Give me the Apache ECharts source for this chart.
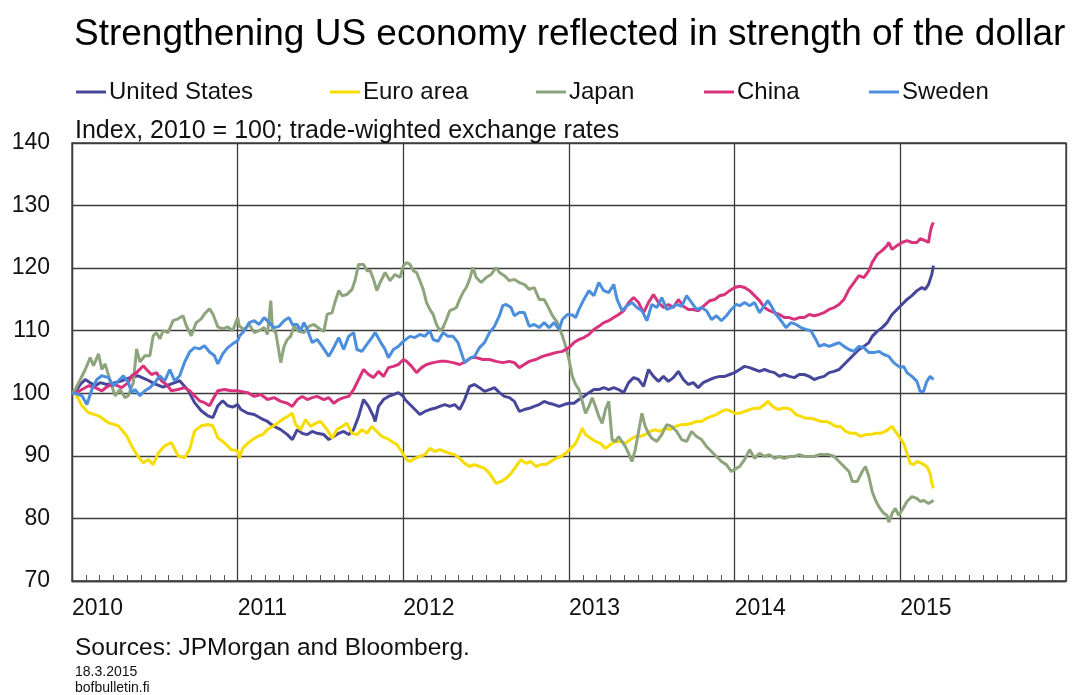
<!DOCTYPE html>
<html>
<head>
<meta charset="UTF-8"/>
<script src="https://cdn.jsdelivr.net/npm/echarts@6/dist/echarts.min.js"></script>
<title>Strengthening US economy</title>
<style>
  html, body { margin: 0; padding: 0; background: #fff; }
  #main { width: 1072px; height: 695px; }
</style>
</head>
<body>
<div id="main"></div>
<script type="text/javascript">
    // trade-weighted exchange rate indices, 2010 = 100 (x = decimal year)
    var usData = [
        [2010.00,100],[2010.03,100.6],[2010.05,101.4],[2010.08,102.2],[2010.11,101.7],[2010.14,101.2],[2010.17,101.7],
        [2010.21,101.4],[2010.25,101.6],[2010.30,102],[2010.35,102.5],[2010.40,102.8],[2010.45,102.2],[2010.50,101.5],
        [2010.55,101],[2010.60,101.5],[2010.65,102],[2010.70,100.5],[2010.74,98.5],[2010.78,97.2],[2010.82,96.4],
        [2010.85,96.1],[2010.88,98],[2010.91,98.8],[2010.94,98],[2010.97,97.8],[2011.00,98.2],
        [2011.02,97.4],[2011.06,96.8],[2011.10,96.6],[2011.14,96],[2011.18,95.5],[2011.22,94.7],[2011.26,94.2],
        [2011.30,93.4],[2011.33,92.6],[2011.36,94.2],[2011.39,93.6],[2011.42,93.4],[2011.45,93.9],[2011.48,93.6],
        [2011.52,93.4],[2011.55,92.6],[2011.58,93.1],[2011.61,93.6],[2011.64,93.9],[2011.67,93.4],[2011.70,94.2],
        [2011.73,96.3],[2011.76,99],[2011.79,97.9],[2011.82,96.3],[2011.83,95.5],[2011.85,97.9],[2011.88,99],
        [2011.91,99.5],[2011.94,99.8],[2011.97,100.1],[2012.00,99.5],
        [2012.01,99],[2012.04,98.2],[2012.07,97.4],[2012.10,96.6],[2012.13,97.1],[2012.16,97.4],[2012.19,97.6],
        [2012.22,97.9],[2012.25,98.2],[2012.28,97.9],[2012.31,98.2],[2012.34,97.4],[2012.37,99],[2012.40,101.1],
        [2012.43,101.4],[2012.46,100.9],[2012.49,100.3],[2012.52,100.6],[2012.55,100.9],[2012.58,100.1],[2012.61,99.5],
        [2012.64,99.3],[2012.67,98.7],[2012.70,97.1],[2012.73,97.4],[2012.76,97.6],[2012.79,97.9],[2012.82,98.2],
        [2012.85,98.7],[2012.88,98.4],[2012.91,98.2],[2012.94,97.9],[2012.97,98.2],[2013.00,98.4],
        [2013.03,98.4],[2013.06,99],[2013.09,99.5],[2013.12,100.1],[2013.15,100.6],[2013.18,100.6],[2013.21,100.9],
        [2013.24,100.6],[2013.27,100.9],[2013.30,100.6],[2013.33,100.1],[2013.36,101.7],[2013.39,102.5],[2013.42,102.2],
        [2013.45,101.1],[2013.48,103.8],[2013.51,102.7],[2013.54,101.9],[2013.57,102.7],[2013.60,101.9],[2013.63,102.5],
        [2013.66,103.5],[2013.69,102.2],[2013.72,101.4],[2013.75,101.7],[2013.78,100.9],[2013.81,101.7],[2013.85,102.2],
        [2013.88,102.5],[2013.91,102.7],[2013.94,102.7],[2013.97,103],[2014.00,103.3],
        [2014.03,103.8],[2014.06,104.3],[2014.09,104.1],[2014.12,103.8],[2014.15,103.5],[2014.18,103.8],[2014.21,103.5],
        [2014.24,103.3],[2014.27,102.7],[2014.30,103],[2014.33,102.7],[2014.36,102.5],[2014.39,103],[2014.42,103],
        [2014.45,102.7],[2014.48,102.2],[2014.51,102.5],[2014.54,102.7],[2014.57,103.3],[2014.60,103.5],[2014.63,103.8],
        [2014.66,104.6],[2014.69,105.4],[2014.72,106.2],[2014.75,107],[2014.78,107.5],[2014.81,108.1],[2014.83,109.1],
        [2014.86,109.9],[2014.89,110.5],[2014.92,111.3],[2014.95,112.6],[2014.98,113.4],[2015.01,114.2],[2015.04,115],
        [2015.07,115.6],[2015.10,116.4],[2015.13,116.9],[2015.15,116.6],[2015.17,117.4],[2015.19,119],[2015.20,120.4]
    ];

    var euroData = [
        [2010.00,100],[2010.02,100],[2010.06,98],[2010.10,96.9],[2010.16,96.4],[2010.22,95.3],[2010.28,94.8],
        [2010.33,93.2],[2010.36,91.6],[2010.39,90.2],[2010.43,88.9],[2010.46,89.4],[2010.49,88.6],[2010.52,90.4],
        [2010.56,91.6],[2010.60,92.1],[2010.64,90],[2010.68,89.7],[2010.71,91],[2010.74,94],[2010.78,94.8],
        [2010.82,95],[2010.85,94.8],[2010.88,92.9],[2010.92,92.1],[2010.96,91],[2011.00,90.8],
        [2011.01,89.6],[2011.03,91.2],[2011.06,92],[2011.09,92.6],[2011.12,93.1],[2011.15,93.4],[2011.18,94.2],
        [2011.21,94.7],[2011.24,95.2],[2011.27,95.8],[2011.30,96.3],[2011.33,96.8],[2011.35,95],[2011.38,94.2],
        [2011.41,95.8],[2011.44,94.7],[2011.47,95.2],[2011.50,95.5],[2011.54,94.2],[2011.57,92.8],[2011.60,94.2],
        [2011.63,94.7],[2011.66,95.2],[2011.69,93.6],[2011.72,93.4],[2011.75,94.2],[2011.78,93.6],[2011.81,94.7],
        [2011.84,93.9],[2011.87,93.1],[2011.90,92.8],[2011.93,92.3],[2011.96,91.8],[2011.99,90.7],[2012.02,89.4],
        [2012.04,89.1],[2012.07,89.6],[2012.10,89.9],[2012.13,90.2],[2012.16,91.2],[2012.19,90.7],[2012.22,91],
        [2012.25,90.7],[2012.28,90.4],[2012.31,90.2],[2012.34,89.6],[2012.37,88.8],[2012.40,88.3],[2012.43,88.6],
        [2012.46,88.3],[2012.49,88],[2012.52,87.2],[2012.54,86.4],[2012.56,85.6],[2012.59,85.9],[2012.62,86.4],
        [2012.65,87.2],[2012.68,88.3],[2012.71,89.4],[2012.74,88.8],[2012.77,89.1],[2012.80,88.3],[2012.83,88.6],
        [2012.86,88.6],[2012.89,89.1],[2012.92,89.6],[2012.95,89.9],[2012.98,90.4],[2013.01,91.2],[2013.04,92],
        [2013.06,93.1],[2013.08,94.4],[2013.10,93.4],[2013.13,92.8],[2013.16,92.3],[2013.19,92],[2013.22,91.2],
        [2013.25,91.8],[2013.28,92.3],[2013.31,92.3],[2013.34,92],[2013.37,92.6],[2013.40,93.1],[2013.43,93.1],
        [2013.46,93.4],[2013.49,93.9],[2013.52,94.2],[2013.55,93.9],[2013.58,94.4],[2013.61,94.2],[2013.64,94.7],
        [2013.68,95],[2013.71,95],[2013.74,95.2],[2013.77,95.5],[2013.80,95.5],[2013.83,96],[2013.86,96.3],
        [2013.89,96.6],[2013.92,97.1],[2013.95,97.4],[2013.98,97.1],[2014.00,96.8],
        [2014.03,96.8],[2014.06,97.1],[2014.09,97.4],[2014.12,97.6],[2014.15,97.6],[2014.18,98.2],[2014.20,98.7],
        [2014.23,97.9],[2014.26,97.4],[2014.29,97.6],[2014.32,97.6],[2014.34,97.4],[2014.37,96.6],[2014.40,96.3],
        [2014.43,96],[2014.46,96],[2014.49,95.8],[2014.52,95.5],[2014.55,95.5],[2014.58,95.2],[2014.61,94.7],
        [2014.64,94.7],[2014.67,93.9],[2014.70,93.6],[2014.73,93.6],[2014.76,93.1],[2014.79,93.4],[2014.82,93.4],
        [2014.85,93.6],[2014.88,93.6],[2014.91,93.9],[2014.95,94.7],[2014.97,93.9],[2015.00,92.8],[2015.02,92],
        [2015.04,90.4],[2015.06,88.8],[2015.08,88.6],[2015.10,89.1],[2015.13,88.8],[2015.16,88.3],[2015.18,87.2],
        [2015.19,85.6],[2015.20,84.8]
    ];

    var japanData = [
        [2010.00,100],[2010.02,100.6],[2010.05,102.2],[2010.08,103.8],[2010.11,105.7],[2010.13,104.4],[2010.16,106.3],
        [2010.18,103.8],[2010.20,104.7],[2010.23,102],[2010.26,99.6],[2010.29,100.6],[2010.32,99.3],[2010.34,99.6],
        [2010.37,101.7],[2010.39,107.1],[2010.41,105],[2010.44,106],[2010.47,106],[2010.49,109.2],[2010.51,109.7],
        [2010.53,108.7],[2010.55,110],[2010.58,109.7],[2010.61,111.6],[2010.64,111.9],[2010.67,112.4],[2010.69,110.8],
        [2010.72,109.2],[2010.75,111.3],[2010.78,111.9],[2010.80,112.7],[2010.83,113.5],[2010.85,112.7],[2010.88,110.6],
        [2010.91,110.3],[2010.94,110.6],[2010.97,110],[2011.00,112.1],
        [2011.01,110.7],[2011.04,110.2],[2011.07,111],[2011.10,109.7],[2011.13,110],[2011.16,110.5],[2011.18,109.4],
        [2011.20,114.8],[2011.21,110.2],[2011.23,109.7],[2011.25,106.5],[2011.26,104.9],[2011.28,107.5],[2011.30,108.6],
        [2011.32,109.1],[2011.34,110.7],[2011.37,109.9],[2011.40,109.7],[2011.43,110.7],[2011.46,111],[2011.50,110.2],
        [2011.52,109.9],[2011.54,112.6],[2011.57,112.9],[2011.59,114.8],[2011.61,116.4],[2011.63,115.6],[2011.66,115.8],
        [2011.69,116.6],[2011.71,118.2],[2011.73,120.6],[2011.76,120.6],[2011.78,119.6],[2011.80,119.6],[2011.82,118.2],
        [2011.84,116.4],[2011.86,117.7],[2011.89,119.3],[2011.92,118],[2011.95,119],[2011.98,118.5],
        [2012.00,120.4],[2012.02,120.9],[2012.04,120.6],[2012.06,119.6],[2012.08,119.3],[2012.10,118],[2012.12,116.6],
        [2012.14,114.5],[2012.16,113.4],[2012.18,112.6],[2012.20,111],[2012.22,110],[2012.24,110.5],[2012.26,111.8],
        [2012.28,113.2],[2012.30,113.4],[2012.32,113.7],[2012.34,115],[2012.36,116.1],[2012.38,116.9],[2012.40,118.2],
        [2012.42,120.1],[2012.44,118.5],[2012.47,117.7],[2012.50,118.5],[2012.53,119],[2012.56,120.1],[2012.58,119.3],
        [2012.61,118.8],[2012.64,118],[2012.67,118.2],[2012.70,117.7],[2012.73,117.4],[2012.76,116.6],[2012.79,116.9],
        [2012.82,115],[2012.85,115],[2012.87,114],[2012.90,112.4],[2012.93,111.3],[2012.96,109.2],[2012.98,107.5],
        [2013.00,105.4],[2013.02,102.7],[2013.04,101.4],[2013.06,100.6],
        [2013.08,98.7],[2013.10,96.8],[2013.12,97.9],[2013.14,99.3],[2013.16,97.9],[2013.18,96.3],[2013.20,95.2],
        [2013.22,97.4],[2013.24,98.7],[2013.26,92.6],[2013.28,92.3],[2013.30,93.1],[2013.32,92.3],[2013.34,91.5],
        [2013.36,90.4],[2013.38,89.1],[2013.40,91],[2013.42,93.9],[2013.44,96.8],[2013.46,94.7],[2013.48,93.6],
        [2013.50,92.8],[2013.53,92.3],[2013.56,93.4],[2013.59,95],[2013.62,94.7],[2013.65,93.9],[2013.68,92.6],
        [2013.71,92.3],[2013.74,93.9],[2013.77,93.1],[2013.80,92.6],[2013.83,91.5],[2013.86,90.7],[2013.89,89.9],
        [2013.92,89.1],[2013.95,88.6],[2013.98,87.5],[2014.01,88],
        [2014.03,88.3],[2014.06,89.4],[2014.09,91],[2014.12,89.6],[2014.15,90.4],[2014.18,89.9],[2014.21,90.2],
        [2014.24,89.6],[2014.27,89.9],[2014.30,89.6],[2014.33,89.9],[2014.36,89.9],[2014.39,90.2],[2014.42,89.9],
        [2014.45,89.9],[2014.48,89.9],[2014.51,90.2],[2014.54,90.2],[2014.57,90.2],[2014.60,89.9],[2014.63,89.1],
        [2014.66,88.3],[2014.69,87.5],[2014.71,85.9],[2014.74,85.9],[2014.77,87.5],[2014.79,88.3],[2014.81,86.7],
        [2014.83,84.3],[2014.85,82.9],[2014.87,81.9],[2014.90,80.8],[2014.92,80.5],[2014.93,79.4],[2014.95,80.8],
        [2014.97,81.6],[2014.99,80.5],[2015.01,81.3],[2015.04,82.7],[2015.07,83.5],[2015.10,83.2],[2015.12,82.7],
        [2015.14,82.9],[2015.17,82.4],[2015.19,82.7],[2015.20,82.9]
    ];

    var chinaData = [
        [2010.00,100],[2010.02,100],[2010.06,100.6],[2010.10,101.2],[2010.14,100.9],[2010.18,100.4],[2010.22,101.2],
        [2010.26,101.4],[2010.30,100.9],[2010.34,101.7],[2010.36,102.8],[2010.39,103.3],[2010.43,104.4],[2010.45,103.8],
        [2010.48,103],[2010.51,103.3],[2010.54,102],[2010.57,101.4],[2010.60,100.4],[2010.64,100.6],[2010.68,100.9],
        [2010.71,100.4],[2010.74,99.6],[2010.77,98.8],[2010.80,98.5],[2010.83,98],[2010.85,99],[2010.88,100.4],
        [2010.92,100.6],[2010.96,100.4],[2011.00,100.4],
        [2011.02,100.3],[2011.06,100.1],[2011.10,99.5],[2011.14,99.8],[2011.18,99],[2011.22,99.3],[2011.26,98.7],
        [2011.30,98.4],[2011.33,97.9],[2011.36,99],[2011.39,99.5],[2011.42,99],[2011.45,99.3],[2011.48,99.5],
        [2011.52,99],[2011.55,99.3],[2011.58,98.4],[2011.61,99],[2011.64,99.3],[2011.67,99.5],[2011.70,100.6],
        [2011.73,102.2],[2011.76,103.8],[2011.79,103],[2011.82,102.5],[2011.85,103.5],[2011.88,102.7],[2011.91,104.1],
        [2011.94,104.3],[2011.97,104.6],[2012.00,105.4],
        [2012.02,105.1],[2012.05,104.3],[2012.08,103.3],[2012.11,104.1],[2012.14,104.6],[2012.18,104.9],[2012.22,105.1],
        [2012.26,105.1],[2012.30,104.9],[2012.34,104.6],[2012.38,105.1],[2012.41,105.7],[2012.44,105.7],[2012.48,105.4],
        [2012.52,105.4],[2012.56,105.1],[2012.60,104.9],[2012.64,105.1],[2012.67,104.9],[2012.70,104.1],[2012.73,104.6],
        [2012.76,105.1],[2012.80,105.4],[2012.84,105.9],[2012.88,106.2],[2012.92,106.5],[2012.96,106.7],[2013.00,107.3],
        [2013.03,108.1],[2013.06,108.6],[2013.09,108.9],[2013.12,109.4],[2013.15,110.2],[2013.18,110.7],[2013.21,111.3],
        [2013.24,111.6],[2013.27,112.1],[2013.30,112.6],[2013.33,113.2],[2013.36,114.5],[2013.39,115.3],[2013.42,114.5],
        [2013.45,112.9],[2013.48,114.5],[2013.51,115.8],[2013.54,114.5],[2013.57,113.7],[2013.60,114.2],[2013.63,113.7],
        [2013.66,115],[2013.69,113.9],[2013.72,113.4],[2013.75,113.4],[2013.78,113.2],[2013.81,113.9],[2013.85,114.8],
        [2013.88,115],[2013.91,115.6],[2013.94,115.8],[2013.97,116.4],[2014.00,116.9],
        [2014.03,117.1],[2014.06,116.9],[2014.09,116.4],[2014.12,115.6],[2014.15,114.8],[2014.18,113.7],[2014.21,113.2],
        [2014.24,112.9],[2014.27,112.6],[2014.30,112.1],[2014.33,112.1],[2014.36,111.8],[2014.39,112.1],[2014.42,112.1],
        [2014.45,112.6],[2014.48,112.4],[2014.51,112.6],[2014.54,112.9],[2014.57,113.4],[2014.60,113.7],[2014.63,114.2],
        [2014.66,115],[2014.69,116.6],[2014.72,117.7],[2014.75,118.8],[2014.78,118.5],[2014.81,119.6],[2014.83,120.9],
        [2014.86,122.2],[2014.89,122.8],[2014.92,123.6],[2014.93,124.1],[2014.95,123],[2014.98,123.6],[2015.01,124.1],
        [2015.04,124.4],[2015.07,124.1],[2015.10,124.1],[2015.12,124.7],[2015.15,124.4],[2015.17,124.1],[2015.18,125.7],
        [2015.19,126.8],[2015.20,127.3]
    ];

    var swedenData = [
        [2010.00,100],[2010.02,100],[2010.06,99.6],[2010.09,98.2],[2010.12,100.6],[2010.15,102.2],[2010.18,102.8],
        [2010.22,102.5],[2010.25,101.2],[2010.28,102],[2010.31,102.8],[2010.34,101.7],[2010.36,100.1],[2010.38,100.6],
        [2010.41,99.6],[2010.44,100.4],[2010.47,100.9],[2010.50,101.7],[2010.53,102.8],[2010.56,102],[2010.59,103.8],
        [2010.62,102],[2010.65,102.8],[2010.68,105],[2010.71,106.6],[2010.74,107.3],[2010.77,107.1],[2010.80,107.6],
        [2010.83,106.6],[2010.86,106],[2010.88,104.7],[2010.91,106.3],[2010.94,107.3],[2010.97,107.9],[2011.00,108.4],
        [2011.01,109.1],[2011.04,110],[2011.07,111.3],[2011.10,111.6],[2011.13,111],[2011.16,112.1],[2011.19,111.3],
        [2011.22,110.5],[2011.25,110.7],[2011.28,111.6],[2011.31,112.1],[2011.33,111],[2011.36,111],[2011.38,110],
        [2011.40,111.3],[2011.42,110.2],[2011.45,108.1],[2011.48,108.6],[2011.51,107.5],[2011.55,105.9],[2011.58,107.3],
        [2011.61,108.9],[2011.64,107],[2011.67,109.1],[2011.70,109.7],[2011.72,107],[2011.75,106.7],[2011.78,107.8],
        [2011.81,108.9],[2011.83,109.7],[2011.86,108.3],[2011.89,107],[2011.91,105.7],[2011.94,107],[2011.97,107.5],
        [2012.00,108.3],
        [2012.04,109.1],[2012.07,108.9],[2012.10,109.4],[2012.13,109.1],[2012.16,110],[2012.18,108.6],[2012.21,108.3],
        [2012.24,109.7],[2012.27,109.1],[2012.30,109.1],[2012.33,108.1],[2012.35,106.5],[2012.37,104.9],[2012.39,105.4],
        [2012.41,105.7],[2012.43,105.9],[2012.46,107.3],[2012.49,108.1],[2012.52,109.7],[2012.55,110.7],[2012.58,112.4],
        [2012.60,114],[2012.62,114.2],[2012.65,113.7],[2012.67,112.4],[2012.70,112.9],[2012.73,112.9],[2012.76,110.7],
        [2012.79,111],[2012.82,110.5],[2012.85,111.3],[2012.88,110.5],[2012.91,111.3],[2012.94,110.2],[2012.96,111.8],
        [2012.99,112.6],[2013.02,112.5],
        [2013.04,112.1],[2013.06,113.4],[2013.09,115],[2013.12,116.4],[2013.15,115.6],[2013.18,117.7],[2013.21,116.4],
        [2013.24,116.1],[2013.27,117.4],[2013.29,115],[2013.32,113.2],[2013.35,114],[2013.38,114.5],[2013.41,113.7],
        [2013.44,113.2],[2013.47,111.6],[2013.50,114.2],[2013.53,113.7],[2013.56,115.3],[2013.59,113.4],[2013.62,113.7],
        [2013.65,114.2],[2013.68,113.9],[2013.71,115.6],[2013.74,114.5],[2013.77,113.4],[2013.80,113.7],[2013.83,113.2],
        [2013.86,111.8],[2013.89,112.4],[2013.92,111.6],[2013.95,112.4],[2013.98,113.4],[2014.01,114.2],
        [2014.03,114],[2014.06,114.5],[2014.09,114],[2014.12,114.5],[2014.15,112.9],[2014.18,114],[2014.20,114.8],
        [2014.22,114],[2014.25,112.6],[2014.28,111.6],[2014.31,110.5],[2014.34,111.3],[2014.37,111],[2014.40,110.5],
        [2014.43,110.2],[2014.46,110],[2014.49,108.6],[2014.51,107.5],[2014.54,107.8],[2014.57,107.5],[2014.60,107.8],
        [2014.63,108.1],[2014.66,107.5],[2014.69,107],[2014.72,106.7],[2014.75,107.5],[2014.78,107.3],[2014.81,106.5],
        [2014.84,106.5],[2014.87,106.7],[2014.90,106.2],[2014.93,105.9],[2014.96,104.9],[2015.00,104.1],[2015.02,104.3],
        [2015.04,103.3],[2015.07,102.7],[2015.10,101.9],[2015.12,100.3],[2015.14,100.3],[2015.16,101.9],[2015.18,102.7],
        [2015.20,102.2]
    ];

    var seriesNames = ['United States', 'Euro area', 'Japan', 'China', 'Sweden'];
    var seriesColors = ['#46479b', '#f7dc00', '#8ea47c', '#d8327c', '#4a8edc'];
    var seriesData = [usData, euroData, japanData, chinaData, swedenData];
    var legendLeft = [76, 330, 536, 704, 869];

    var yearMin = 2010, yearMax = 2016;
    var valueMin = 70, valueMax = 140;

    var fontFamily = "'Liberation Sans', Arial, sans-serif";

    var myChart = echarts.init(document.getElementById('main'));

    var legends = [];
    var series = [];
    for (var i = 0; i < seriesNames.length; i++) {
        legends.push({
            data: [seriesNames[i]],
            left: legendLeft[i],
            top: 80,
            icon: 'rect',
            itemWidth: 30,
            itemHeight: 3,
            padding: 0,
            selectedMode: false,
            textStyle: {fontSize: 24, color: '#111', fontFamily: fontFamily, padding: [0, 0, 0, -2]}
        });
        series.push({
            name: seriesNames[i],
            type: 'line',
            data: seriesData[i],
            showSymbol: false,
            symbol: 'none',
            color: seriesColors[i],
            lineStyle: {width: 3, color: seriesColors[i]}
        });
    }

    var option = {
        animation: false,
        backgroundColor: '#ffffff',
        title: [
            {
                text: 'Strengthening US economy reflected in strength of the dollar',
                left: 74, top: 16, padding: 0,
                textStyle: {fontSize: 37, fontWeight: 'normal', color: '#000', fontFamily: fontFamily, lineHeight: 37}
            },
            {
                text: 'Index, 2010 = 100; trade-wighted exchange rates',
                left: 75, top: 119, padding: 0,
                textStyle: {fontSize: 25, fontWeight: 'normal', color: '#111', fontFamily: fontFamily, lineHeight: 25}
            },
            {
                text: 'Sources: JPMorgan and Bloomberg.',
                left: 75, top: 636, padding: 0,
                textStyle: {fontSize: 24.5, fontWeight: 'normal', color: '#111', fontFamily: fontFamily, lineHeight: 24}
            },
            {
                text: '18.3.2015',
                left: 75, top: 665, padding: 0,
                textStyle: {fontSize: 14, fontWeight: 'normal', color: '#111', fontFamily: fontFamily, lineHeight: 14}
            },
            {
                text: 'bofbulletin.fi',
                left: 75, top: 681, padding: 0,
                textStyle: {fontSize: 14, fontWeight: 'normal', color: '#111', fontFamily: fontFamily, lineHeight: 14}
            }
        ],
        legend: legends,
        grid: {
            left: 72, right: 6, top: 143, bottom: 114,
            show: true,
            borderColor: '#3c3c3c',
            borderWidth: 1.3,
            backgroundColor: 'transparent'
        },
        xAxis: {
            type: 'value',
            min: yearMin,
            max: yearMax,
            interval: 1,
            axisLine: {show: true, lineStyle: {color: '#3c3c3c', width: 1.3}},
            axisTick: {show: true, inside: true, length: 6, lineStyle: {color: '#3c3c3c'}},
            minorTick: {show: true, splitNumber: 12, length: 6, lineStyle: {color: '#555', width: 1}},
            splitLine: {show: true, lineStyle: {color: '#3c3c3c', width: 1.3}},
            axisLabel: {
                align: 'left',
                margin: 16,
                fontSize: 23,
                color: '#111',
                fontFamily: fontFamily,
                showMaxLabel: false,
                formatter: function (v) { return v < yearMax ? String(v) : ''; }
            }
        },
        yAxis: {
            type: 'value',
            min: valueMin,
            max: valueMax,
            interval: 10,
            axisLine: {show: true, lineStyle: {color: '#3c3c3c', width: 1.3}},
            axisTick: {show: false},
            splitLine: {show: true, lineStyle: {color: '#3c3c3c', width: 1.3}},
            axisLabel: {
                margin: 22,
                fontSize: 23,
                color: '#111',
                fontFamily: fontFamily
            }
        },
        series: series
    };

    myChart.setOption(option);
</script>
</body>
</html>
